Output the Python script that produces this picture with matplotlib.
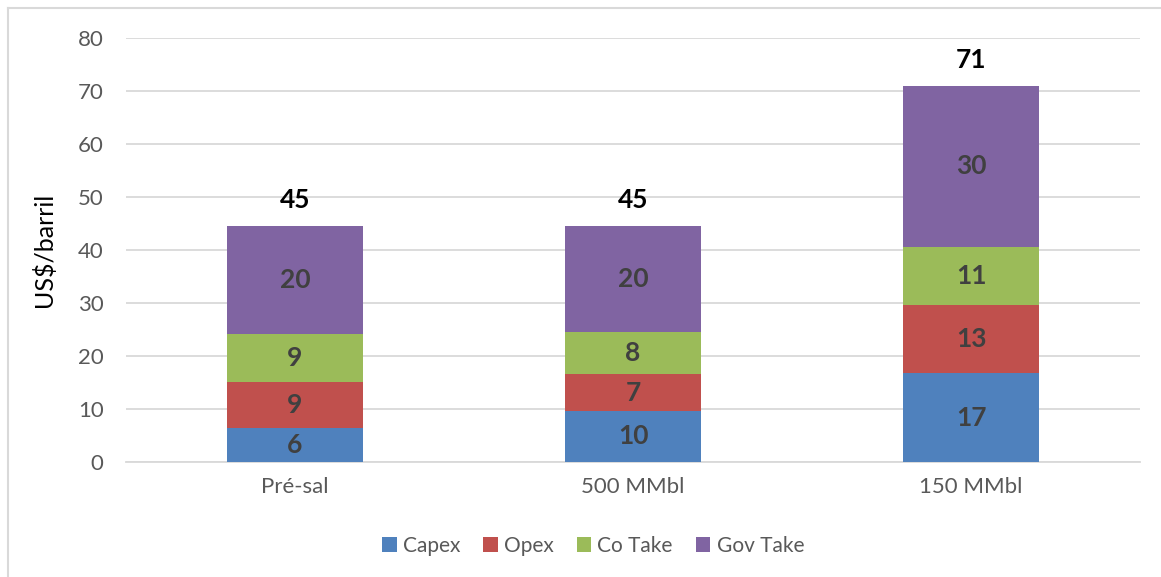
import numpy as np
import matplotlib.pyplot as plt
from matplotlib.lines import Line2D

plt.rcParams['font.family'] = ['Lato', 'DejaVu Sans']

# cost breakdown per barrel (US$)
categories = ['Pré-sal', '500 MMbl', '150 MMbl']
capex = [6.3, 9.6, 16.7]
opex = [8.7, 6.9, 12.9]
co_take = [9.2, 8.0, 11.0]
gov_take = [20.4, 20.1, 30.4]

series = [('Capex', capex, '#4F81BD'),
          ('Opex', opex, '#C0504D'),
          ('Co Take', co_take, '#9BBB59'),
          ('Gov Take', gov_take, '#8064A2')]

fig = plt.figure(figsize=(11.61, 5.77), dpi=100)
ax = fig.add_axes([0.1085, 0.1998, 0.8735, 0.7338])

x = np.arange(len(categories))
bottom = np.zeros(len(categories))
for name, vals, color in series:
    vals = np.array(vals)
    bars = ax.bar(x, vals, 0.4, bottom=bottom, color=color, label=name, zorder=3)
    ax.bar_label(bars, labels=['%.0f' % v for v in vals], label_type='center',
                 fontsize=19, fontweight='bold', color='#404040')
    bottom += vals

# totals above each stack
for xi, tot in zip(x, bottom):
    ax.text(xi, tot + 2.6, '%.0f' % tot, ha='center', va='bottom',
            fontsize=19, fontweight='bold', color='black')

ax.set_xlim(-0.5, 2.5)
ax.set_ylim(0, 80)
ax.set_yticks(range(0, 81, 10))
ax.set_xticks(x)
ax.set_xticklabels(categories)
ax.yaxis.grid(True, color='#D9D9D9', linewidth=1.3, zorder=0)
ax.set_axisbelow(True)
for s in ['top', 'right', 'left']:
    ax.spines[s].set_visible(False)
ax.spines['bottom'].set_color('#D9D9D9')
ax.spines['bottom'].set_linewidth(1.3)
ax.tick_params(axis='both', length=0, labelsize=16, labelcolor='#595959')
ax.tick_params(axis='y', pad=16)
ax.tick_params(axis='x', pad=11)

fig.text(44 / 1161, 0.5665, 'US$/barril', rotation=90, ha='center', va='center',
         fontsize=18, color='black')

ax.legend(loc='center', bbox_to_anchor=(593 / 1161, 1 - 546 / 577),
          bbox_transform=fig.transFigure, ncol=4, frameon=False,
          fontsize=15, labelcolor='#595959', handlelength=0.7, handleheight=0.7,
          handletextpad=0.3, columnspacing=1.1)

# chart area border
fig.add_artist(Line2D([8 / 1161, 1], [1 - 8 / 577] * 2, transform=fig.transFigure,
                      color='#D9D9D9', linewidth=1.5))
fig.add_artist(Line2D([8 / 1161] * 2, [0, 1 - 8 / 577], transform=fig.transFigure,
                      color='#D9D9D9', linewidth=1.5))

fig.savefig('out.png', dpi=100)
